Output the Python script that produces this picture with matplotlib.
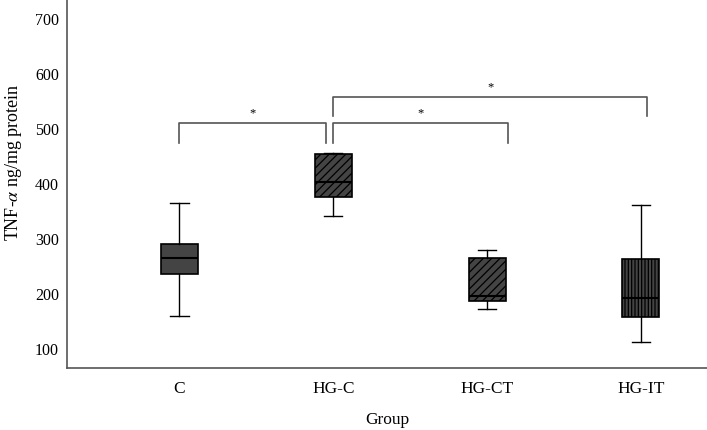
import matplotlib
matplotlib.use("Agg")
import matplotlib.pyplot as plt

groups = ["C", "HG-C", "HG-CT", "HG-IT"]
whisker_low = [160, 342, 173, 113]
q1 = [236, 376, 187, 158]
median = [265, 404, 196, 192]
q3 = [291, 454, 265, 264]
whisker_high = [365, 456, 280, 362]
hatches = ["", "////", "////", "|||||"]

# significance brackets: (x left, x right, bar height, drop to)
brackets = [(0.0, 0.955, 511, 474), (1.0, 2.136, 511, 474), (1.0, 3.04, 558, 523)]

plt.rcParams["font.family"] = ["Liberation Serif", "DejaVu Serif"]
plt.rcParams["mathtext.fontset"] = "stix"
plt.rcParams["hatch.linewidth"] = 0.9

fig = plt.figure(figsize=(7.07, 4.30), dpi=100)
ax = fig.add_axes([0.095, 0.144, 0.905, 0.856])

stats = []
for i, g in enumerate(groups):
    stats.append(dict(label=g, whislo=whisker_low[i], q1=q1[i], med=median[i],
                      q3=q3[i], whishi=whisker_high[i], fliers=[]))

bp = ax.bxp(stats, positions=range(len(groups)), widths=0.24, patch_artist=True,
            showfliers=False,
            boxprops=dict(facecolor="#444444", edgecolor="black", linewidth=1.2),
            medianprops=dict(color="black", linewidth=1.5),
            whiskerprops=dict(color="black", linewidth=1.0),
            capprops=dict(color="black", linewidth=1.0), capwidths=0.12)
for box, h in zip(bp["boxes"], hatches):
    box.set_hatch(h)

for x0, x1, top, bot in brackets:
    ax.plot([x0, x0, x1, x1], [bot, top, top, bot], color="#555555", lw=1.2)
    ax.text((x0 + x1) / 2, top + 6, "*", ha="center", va="bottom", fontsize=9)

ax.set_xlim(-0.73, 3.43)
ax.set_ylim(65.5, 734.5)
ax.set_yticks([100, 200, 300, 400, 500, 600, 700])
ax.tick_params(axis="y", length=0, labelsize=11.5, pad=6)
ax.tick_params(axis="x", length=0, labelsize=12.5, pad=9)
for s in ["top", "right"]:
    ax.spines[s].set_visible(False)
for s in ["left", "bottom"]:
    ax.spines[s].set_color("#555555")
    ax.spines[s].set_linewidth(1.2)

ax.set_xlabel("Group", fontsize=12.5)
ax.set_ylabel("TNF-$\\alpha$ ng/mg protein", fontsize=13)
ax.xaxis.set_label_coords(0.5, -0.12)
ax.yaxis.set_label_coords(-0.068, 0.56)

fig.savefig("out.png", dpi=100)
